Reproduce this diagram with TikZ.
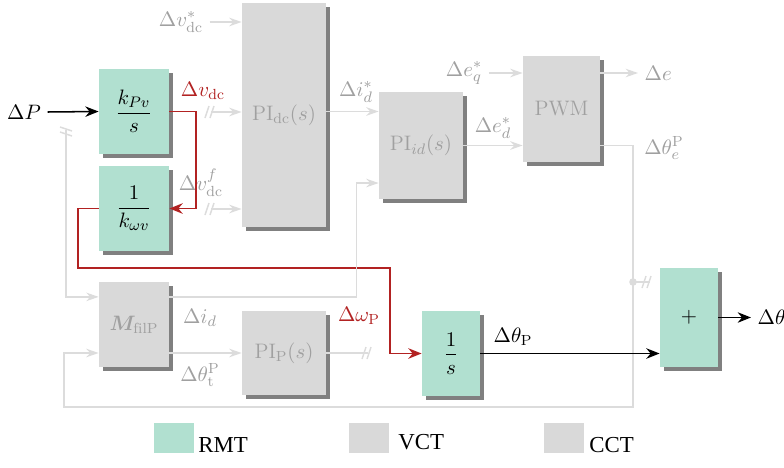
\documentclass[tikz,border=0pt]{standalone}
\usepackage{amsmath,bm}
\usepackage{fontspec}
\newfontfamily\legendfont{Liberation Serif}
\usetikzlibrary{arrows.meta,shadows}
\definecolor{rmtgreen}{RGB}{177,224,208}
\definecolor{boxgray}{RGB}{217,217,217}
\definecolor{linegray}{RGB}{220,220,220}
\definecolor{textgray}{RGB}{160,160,160}
\definecolor{shadowgray}{RGB}{128,128,128}
\definecolor{sigred}{RGB}{178,34,34}
\newcommand{\pu}{0.525pt}
\tikzset{
  every node/.style={font=\fontsize{11}{13}\selectfont},
  blk/.style={inner sep=0pt, drop shadow={shadow xshift=1.9pt, shadow yshift=-1.9pt, fill=shadowgray, opacity=1}},
  rmt/.style={blk, fill=rmtgreen},
  vct/.style={blk, fill=boxgray, text=textgray},
  gline/.style={draw=linegray, line width=0.75pt},
  garrow/.style={gline, -{Stealth[length=6.5pt, width=4.5pt]}},
  rarrow/.style={draw=sigred, line width=1pt, -{Stealth[length=7pt, width=5.5pt]}},
  barrow/.style={draw=black, line width=0.8pt, -{Stealth[length=7pt, width=5.5pt]}},
  glabel/.style={text=textgray},
  rlabel/.style={text=sigred},
  legbox/.style={minimum width=40*\pu, minimum height=30*\pu, inner sep=0pt},
  legtext/.style={anchor=base west, inner sep=0pt, font=\legendfont\large},
  slash/.pic={\draw[gline] (-6,6) -- (-2,-6) (-1,6) -- (3,-6);}
}
\begin{document}
\begin{tikzpicture}[x=\pu, y=-\pu]
\useasboundingbox (0,0) rectangle (784,468);
\node[rmt, minimum width=70*\pu, minimum height=85*\pu] (kpv) at (134,111.5) {$\dfrac{k_{Pv}}{s}$};
\node[rmt, minimum width=70*\pu, minimum height=85*\pu] (kwv) at (134,208.5) {$\dfrac{1}{k_{\omega v}}$};
\node[vct, minimum width=84*\pu, minimum height=224*\pu] (pidc) at (284,115) {$\mathrm{PI}_{\mathrm{dc}}(s)$};
\node[vct, minimum width=84*\pu, minimum height=107*\pu] (piid) at (421,145.5) {$\mathrm{PI}_{id}(s)$};
\node[vct, minimum width=77*\pu, minimum height=106*\pu] (pwm) at (561.5,109) {PWM};
\node[vct, minimum width=70*\pu, minimum height=85*\pu] (mfil) at (134,324.5) {$\bm{M}_{\mathrm{filP}}$};
\node[vct, minimum width=84*\pu, minimum height=84*\pu] (pip) at (284,353) {$\mathrm{PI}_{\mathrm{P}}(s)$};
\node[rmt, minimum width=58*\pu, minimum height=85*\pu] (ints) at (451,353.5) {$\dfrac{1}{s}$};
\node[rmt, minimum width=58*\pu, minimum height=99*\pu] (plus) at (689,317.5) {$+$};

\node (dp) at (24,112) {$\Delta P$};
\node[glabel] (lvref) at (181,22) {$\Delta v_{\mathrm{dc}}^{*}$};
\node[rlabel] (lvdc) at (203,91) {$\Delta v_{\mathrm{dc}}$};
\node[glabel] (lvf) at (201,183) {$\Delta v_{\mathrm{dc}}^{f}$};
\node[glabel] (lidref) at (356,92) {$\Delta i_d^{*}$};
\node[glabel] (leqref) at (464,73) {$\Delta e_q^{*}$};
\node[glabel] (ledref) at (493,128) {$\Delta e_d^{*}$};
\node[glabel, anchor=west] (le) at (638,73) {$\Delta e$};
\node[glabel] (lthe) at (664,148) {$\Delta\theta_e^{\mathrm{P}}$};
\node[glabel] (lid) at (200,318) {$\Delta i_d$};
\node[glabel] (ltht) at (200,375) {$\Delta\theta_{\mathrm{t}}^{\mathrm{P}}$};
\node[rlabel] (lwp) at (359,316) {$\Delta\omega_{\mathrm{P}}$};
\node (lthp) at (513,337) {$\Delta\theta_{\mathrm{P}}$};
\node[anchor=west] (lth) at (751,317.5) {$\Delta\theta$};

\coordinate (vin) at (211,112);
\coordinate (vfin) at (211,209);
\coordinate (pbr) at (66,130);
\coordinate (tap) at (633,282);
\coordinate (wpcut) at (368,353);

\draw[barrow] (dp.east) -- (kpv.west);
\draw[rarrow] (kpv.east) -- ++(27,0) |- (kwv.east);
\draw[rarrow] (kwv.west) -- ++(-21,0) |- (390,268) |- (ints.west);
\draw[garrow] (lvref) -- (pidc.west |- lvref);
\draw[garrow] (vin) -- (pidc.west |- vin);
\draw[garrow] (vfin) -- (pidc.west |- vfin);
\pic at (vin) {slash};
\pic at (vfin) {slash};
\draw[garrow] (pidc.east |- kpv.east) -- (piid.west |- kpv.east);
\draw[garrow] (leqref) -- (pwm.west |- leqref);
\draw[garrow] (piid.east) -- (piid.east -| pwm.west);
\draw[garrow] (pwm.east |- le) -- (le);
\draw[garrow] (piid.east -| pwm.east) -| (633,407) -| (64,353) -- (mfil.west |- pip.west);
\draw[gline] (tap) -- ++(17,0);
\fill[linegray] (tap) circle (2pt);
\pic at (648,282) {slash};
\draw[garrow] (pbr) |- ([yshift=14.5pt]mfil.west);
\pic[rotate=90] at (pbr) {slash};
\draw[garrow] ([yshift=14.5pt]mfil.east) -| ([xshift=-11.5pt, yshift=-19.7pt]piid.west) -- ([yshift=-19.7pt]piid.west);
\draw[garrow] (mfil.east |- pip.west) -- (pip.west);
\draw[gline] (pip.east) -- (wpcut);
\pic at (wpcut) {slash};
\draw[barrow] (ints.east) -- (ints.east -| plus.west);
\draw[barrow] (plus.east) -- (lth.west);

\node[legbox, fill=rmtgreen] (lrmt) at (174,438) {};
\node[legbox, fill=boxgray] (lvct) at (369,438) {};
\node[legbox, fill=boxgray] (lcct) at (564,438) {};
\node[legtext] (trmt) at (198,452) {RMT};
\node[legtext] (tvct) at (398,449) {VCT};
\node[legtext] (tcct) at (589,452) {CCT};
\end{tikzpicture}
\end{document}
